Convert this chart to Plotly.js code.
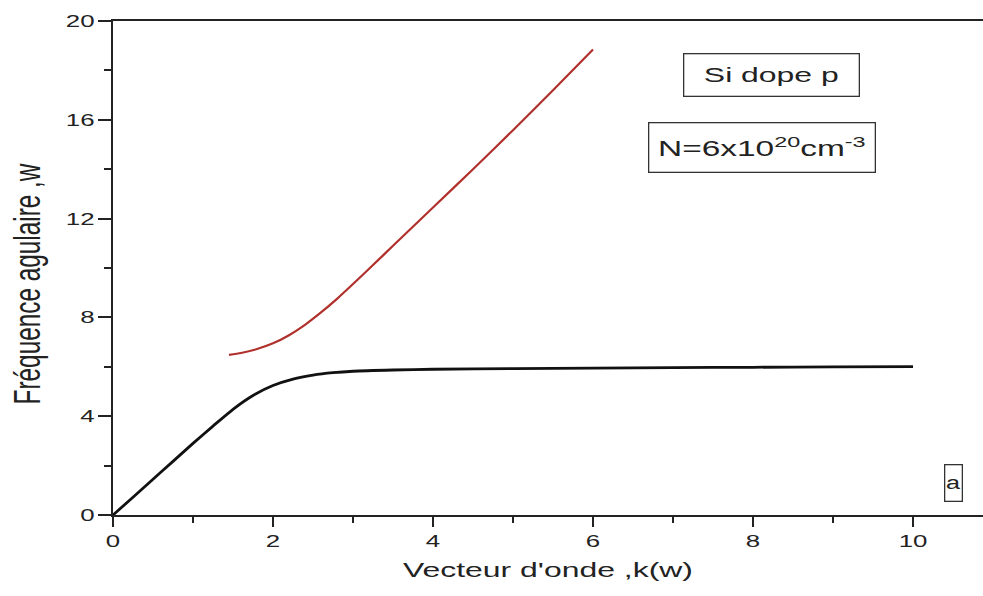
<!DOCTYPE html>
<html>
<head>
<meta charset="utf-8">
<script src="https://cdn.plot.ly/plotly-3.0.1.min.js"></script>
<style>
html,body{margin:0;padding:0;background:#fff;}
#chart{width:983px;height:596px;}
</style>
</head>
<body>
<div id="chart"></div>
<script>
// Lower branch (black)
const kLow = [0, 0.25, 0.5, 0.75, 1.0, 1.25, 1.5, 1.75, 2.0, 2.25, 2.5, 2.75, 3.0, 3.5, 4, 5, 6, 7, 8, 9, 10];
const wLow = [0, 0.72, 1.45, 2.17, 2.9, 3.6, 4.28, 4.84, 5.24, 5.5, 5.66, 5.76, 5.82, 5.87, 5.9, 5.93, 5.95, 5.97, 5.98, 6.0, 6.01];
// Upper branch (red)
const kHigh = [1.45, 1.6, 1.8, 2.0, 2.2, 2.4, 2.6, 2.8, 3.0, 3.25, 3.5, 4.0, 4.5, 5.0, 5.5, 6.0];
const wHigh = [6.48, 6.56, 6.72, 6.95, 7.28, 7.7, 8.2, 8.75, 9.35, 10.12, 10.9, 12.45, 14.0, 15.58, 17.2, 18.85];

const xTitle = "Vecteur d'onde ,k(w)";
const yTitle = "Fréquence agulaire ,w";
const label1 = "Si dope p";
const label2 = "N=6x10<sup>20</sup>cm<sup>-3</sup>";
const label3 = "a";

const FONT = "Liberation Sans, Arial, sans-serif";
const STRETCH = 1.52;

const traces = [
  {x: kLow, y: wLow, type: 'scatter', mode: 'lines', line: {color: '#111111', width: 2.8, shape: 'spline', smoothing: 0.6}, hoverinfo: 'skip'},
  {x: kHigh, y: wHigh, type: 'scatter', mode: 'lines', line: {color: '#b0302c', width: 2.2, shape: 'spline', smoothing: 0.6}, hoverinfo: 'skip'}
];

const layout = {
  width: 983, height: 596,
  margin: {l: 113, r: 0, t: 21, b: 81, pad: 0},
  paper_bgcolor: '#ffffff', plot_bgcolor: '#ffffff',
  showlegend: false,
  font: {family: FONT, color: '#222222'},
  xaxis: {
    range: [0, 10.875], tick0: 0, dtick: 2,
    showgrid: false, zeroline: false,
    showline: true, linecolor: '#222222', linewidth: 2, mirror: true,
    ticks: 'outside', ticklen: 10, tickwidth: 2, tickcolor: '#222222',
    minor: {dtick: 1, ticks: 'outside', ticklen: 6, tickwidth: 2, tickcolor: '#222222'},
    tickfont: {size: 17, family: FONT, color: '#222222'},
    title: {text: xTitle, font: {size: 21, family: FONT, color: '#222222'}, standoff: 12},
    automargin: false, fixedrange: true
  },
  yaxis: {
    range: [0, 20], tick0: 0, dtick: 4,
    showgrid: false, zeroline: false,
    showline: true, linecolor: '#222222', linewidth: 2, mirror: false,
    ticks: 'outside', ticklen: 13, tickwidth: 2, tickcolor: '#222222',
    minor: {dtick: 2, ticks: 'outside', ticklen: 7, tickwidth: 2, tickcolor: '#222222'},
    tickfont: {size: 17, family: FONT, color: '#222222'},
    title: {text: yTitle, font: {size: 37, family: FONT, color: '#222222'}, standoff: 24},
    automargin: false, fixedrange: true
  },
  annotations: [
    {x: 8.23, y: 17.81, xref: 'x', yref: 'y', text: label1, showarrow: false,
     font: {size: 21, family: FONT, color: '#222222'}, bordercolor: '#333333', borderwidth: 1.3, borderpad: 0,
     width: 174, height: 41, align: 'center', valign: 'middle', bgcolor: '#ffffff'},
    {x: 8.11, y: 14.88, xref: 'x', yref: 'y', text: label2, showarrow: false,
     font: {size: 22, family: FONT, color: '#222222'}, bordercolor: '#333333', borderwidth: 1.3, borderpad: 0,
     width: 225, height: 48, align: 'center', valign: 'middle', bgcolor: '#ffffff'},
    {x: 10.51, y: 1.30, xref: 'x', yref: 'y', text: label3, showarrow: false,
     font: {size: 18, family: FONT, color: '#222222'}, bordercolor: '#333333', borderwidth: 1.3, borderpad: 0,
     width: 16.4, height: 35, align: 'center', valign: 'middle', bgcolor: '#ffffff'}
  ]
};

function stretchEl(el, f) {
  const w = el.getComputedTextLength();
  if (!w) return;
  el.setAttribute('lengthAdjust', 'spacingAndGlyphs');
  el.setAttribute('textLength', (w * f).toFixed(2));
}

Plotly.newPlot('chart', traces, layout, {displayModeBar: false, staticPlot: true}).then(function (gd) {
  gd.querySelectorAll('g.xtick > text, g.ytick > text, text.xtitle, text.annotation-text').forEach(function (t) {
    let f = STRETCH;
    if (t.textContent === 'a') f = 1.4;
    stretchEl(t, f);
  });
  gd.querySelectorAll('text.ytitle').forEach(function (t) {
    stretchEl(t, 1 / STRETCH);
    t.setAttribute('transform', 'translate(0,16) ' + (t.getAttribute('transform') || ''));
  });
});
</script>
</body>
</html>
